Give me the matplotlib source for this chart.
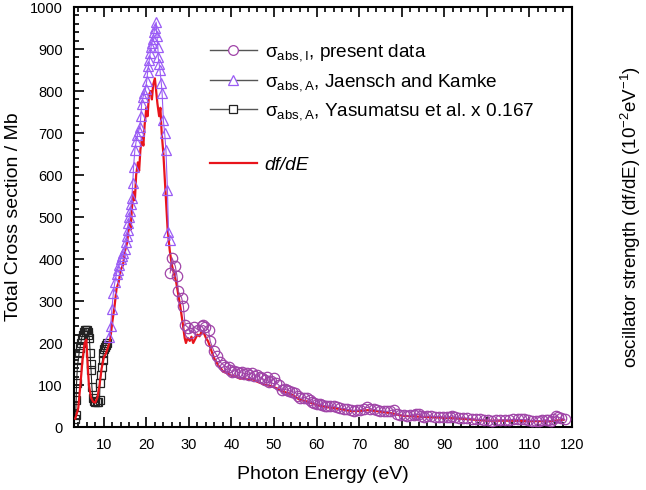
import matplotlib
matplotlib.use("Agg")
import matplotlib.pyplot as plt
from matplotlib.lines import Line2D
from matplotlib.ticker import MultipleLocator

plt.rcParams['font.family'] = ['Liberation Sans', 'DejaVu Sans']
plt.rcParams['mathtext.fontset'] = 'custom'
plt.rcParams['mathtext.rm'] = 'Liberation Sans'
plt.rcParams['mathtext.it'] = 'Liberation Sans:italic'

# ---- data ----
E_yas = [3.3, 3.4, 3.5, 3.6, 3.8, 4.0, 4.2, 4.4, 4.6, 4.8, 5.1, 5.35, 5.6, 5.8, 6.0, 6.2, 6.4,
         6.6, 6.8, 6.9, 7.0, 7.2, 7.4, 7.6, 7.9, 8.3, 8.7, 9.0, 9.1, 9.3, 9.5, 9.7, 9.9, 10.1,
         10.3, 10.5, 10.7]
S_yas = [20, 29, 64, 104, 144, 160, 176, 188, 200, 212, 220, 226, 230, 232, 231, 226, 220,
         212, 176, 150, 136, 96, 70, 62, 60, 60, 60, 64, 104, 125, 144, 160, 176, 185,
         191, 196, 200]

E_jk = [11.3, 11.6, 11.9, 12.25, 12.6, 13.0, 13.3, 13.6, 14.0, 14.3, 14.6, 15.0, 15.2, 15.4,
        15.6, 15.8, 16.0, 16.2, 16.4, 16.6, 16.8, 17.0, 17.3, 17.6, 17.9, 18.2, 18.5, 18.7,
        18.9, 19.2, 19.5, 19.8, 20.1, 20.3, 20.5, 20.7, 20.9, 21.1, 21.3, 21.5, 21.8, 22.0,
        22.3, 22.5, 22.7, 22.8, 23.0, 23.2, 23.5, 23.7, 24.0, 24.3, 24.6, 24.95, 25.2, 25.6]
S_jk = [215, 240, 280, 320, 345, 365, 375, 385, 400, 408, 415, 425, 440, 455,
        470, 485, 500, 515, 530, 545, 580, 620, 660, 680, 695, 705, 715, 740,
        770, 785, 795, 805, 825, 845, 860, 875, 890, 905, 915, 925, 940, 950,
        964, 930, 905, 880, 865, 850, 820, 795, 730, 700, 660, 565, 465, 445]

E_pres = [25.6, 26.0, 26.8, 27.2, 27.5, 28.3, 28.7, 29.1, 29.9, 30.3, 31.1, 32.2, 33.0, 33.4,
          33.8, 34.6, 35.0, 35.8, 36.6, 37.4, 38.1, 38.5, 39.3, 39.7, 40.1, 40.7, 41.3, 41.9,
          42.5, 43.0, 43.6, 44.2, 44.8, 45.4, 46.0, 46.6, 47.2, 47.8, 48.3, 48.7, 49.3, 49.9,
          50.5, 51.1, 51.9, 52.5, 53.0, 53.6, 54.2, 55.0, 55.6, 56.2, 57.0, 57.8, 58.4, 58.9,
          59.5, 60.1, 60.7, 61.3, 61.9, 62.5, 63.2, 64.0, 64.8, 65.6, 66.4, 67.2, 68.0, 68.7,
          69.5, 70.3, 71.1, 71.9, 72.6, 73.4, 74.2, 75.0, 75.8, 76.6, 77.3, 78.1, 78.9, 79.7,
          80.5, 81.3, 82.0, 82.8, 83.4, 84.0, 84.6, 85.2, 86.0, 86.8, 87.7, 88.7, 89.7, 90.7,
          91.3, 91.9, 92.6, 93.4, 94.4, 95.4, 96.4, 97.4, 98.3, 99.3, 100.3, 101.3, 102.2,
          103.2, 104.2, 105.2, 106.2, 107.2, 108.0, 108.7, 109.7, 110.7, 111.5, 112.3, 113.0,
          113.8, 114.4, 115.0, 115.6, 116.2, 116.8, 117.4, 118.3]
S_pres = [367, 403, 383, 359, 323, 307, 287, 243, 236, 224, 239, 231, 240, 242,
          239, 231, 204, 182, 170, 154, 148, 144, 142, 136, 132, 134, 132, 128,
          132, 126, 128, 124, 128, 122, 124, 118, 116, 112, 120, 108, 110, 116,
          105, 100, 88, 90, 88, 86, 84, 82, 75, 68, 70, 68, 64, 60,
          57, 55, 54, 53, 51, 50, 50, 50, 47, 45, 44, 42, 41, 39,
          40, 41, 44, 47, 44, 42, 40, 39, 38, 37, 39, 41, 31, 29,
          28, 26, 28, 29, 30, 30, 27, 25, 26, 26, 25, 25, 24, 23,
          25, 27, 24, 22, 22, 21, 20, 18, 18, 17, 16, 15, 16,
          17, 17, 17, 18, 18, 18, 18, 16, 15, 15, 15, 16,
          17, 16, 15, 20, 26, 23, 21, 18]

E_df = [3.3, 3.6, 4.0, 4.5, 5.0, 5.5, 5.9, 6.2, 6.5, 7.0, 7.5, 8.0, 8.5, 9.0, 9.5, 10.0,
        10.5, 11.0, 11.5, 12.0, 12.5, 13.0, 13.5, 14.0, 14.5, 15.0, 15.5, 16.0, 16.3, 16.6,
        17.0, 17.3, 17.6, 18.0, 18.3, 18.6, 19.0, 19.3, 19.6, 20.0, 20.3, 20.6, 21.0, 21.3,
        21.6, 22.0, 22.3, 22.6, 23.0, 23.3, 23.6, 24.0, 24.5, 25.0, 25.5, 26.0, 26.5, 27.0,
        27.5, 28.0, 28.5, 29.0, 29.3, 29.7, 30.2, 30.6, 31.0, 31.5, 32.0, 32.5, 33.0, 33.5,
        34.0, 34.5, 35.0, 35.5, 36.0, 36.5, 37.0, 37.5, 38.0, 39.0, 40.0, 41.0, 42.0, 43.0,
        44.0, 45.0, 46.0, 47.0, 48.0, 49.0, 50.0, 52.0, 54.0, 56.0, 58.0, 60.0, 62.0, 64.0,
        66.0, 68.0, 70.0, 72.0, 74.0, 76.0, 78.0, 80.0, 85.0, 90.0, 95.0, 100.0, 105.0,
        110.0, 115.0, 118.0]
S_df = [20, 30, 45, 100, 160, 200, 208, 150, 100, 70, 60, 58, 70, 100, 140, 165,
        175, 190, 208, 250, 285, 330, 345, 375, 385, 420, 440, 490, 470, 520,
        560, 540, 600, 630, 610, 660, 690, 670, 720, 760, 740, 790, 800, 780,
        815, 830, 800, 770, 740, 760, 700, 650, 560, 470, 420, 385, 365, 345,
        315, 285, 250, 212, 200, 212, 205, 215, 200, 210, 220, 216, 228, 224,
        212, 204, 190, 175, 162, 154, 145, 140, 132, 128, 122, 120, 115, 117,
        112, 114, 108, 104, 100, 98, 95, 85, 78, 65, 60, 52, 48, 45,
        42, 38, 38, 40, 38, 35, 32, 27, 24, 22, 19, 15, 15,
        14, 14, 17]

x_ticks = [10, 20, 30, 40, 50, 60, 70, 80, 90, 100, 110, 120]
y_ticks = [0, 100, 200, 300, 400, 500, 600, 700, 800, 900, 1000]

c_pres = '#a044a8'
c_jk = '#9a5cf5'
c_yas = '#222222'
c_df = '#e8141b'

fig = plt.figure(figsize=(6.46, 4.90), dpi=100)
ax = fig.add_axes([74/646, 1-427/490, (572-74)/646, (427-7)/490])

ax.plot(E_yas, S_yas, color=c_yas, lw=0.8, marker='s', ms=5.5, mfc='none', mec=c_yas,
        mew=0.9, zorder=2)
ax.plot(E_df, S_df, color=c_df, lw=1.6, zorder=3)
ax.plot(E_jk, S_jk, color=c_jk, lw=0.8, marker='^', ms=7.5, mfc='none', mec=c_jk,
        mew=0.9, zorder=4)
ax.plot(E_pres, S_pres, color=c_pres, lw=0.8, marker='o', ms=7.5, mfc='none', mec=c_pres,
        mew=0.9, zorder=4)

ax.set_xlim(3, 120)
ax.set_ylim(0, 1000)
ax.set_xticks(x_ticks)
ax.set_yticks(y_ticks)
ax.xaxis.set_minor_locator(MultipleLocator(2))
ax.yaxis.set_minor_locator(MultipleLocator(20))
ax.tick_params(which='both', direction='in', top=True, right=True, labelright=True,
               width=1.2, labelsize=10.5, pad=8)
ax.tick_params(which='major', length=7)
ax.tick_params(which='minor', length=3.5)
for s in ax.spines.values():
    s.set_linewidth(1.5)

ax.set_xlabel('Photon Energy (eV)', fontsize=14, labelpad=10)
ax.set_ylabel('Total Cross section / Mb', fontsize=14, labelpad=6)
ax2 = ax.twinx()
ax2.set_ylim(0, 1000)
ax2.set_yticks([])
ax2.set_ylabel(r'oscillator strength (df/dE) (10$^{-2}$eV$^{-1}$)', fontsize=13.5,
               labelpad=34)
for s in ax2.spines.values():
    s.set_visible(False)

gray = '#555555'
handles = [
    Line2D([], [], color=gray, lw=1.0, marker='o', ms=7, mfc='white', mec=c_pres, mew=0.9),
    Line2D([], [], color=gray, lw=1.0, marker='^', ms=7, mfc='white', mec=c_jk, mew=0.9),
    Line2D([], [], color=gray, lw=1.0, marker='s', ms=6, mfc='white', mec=c_yas, mew=0.9),
    Line2D([], [], color='none', lw=0),
    Line2D([], [], color=c_df, lw=1.6),
]
labels = [r'σ$_{\rm abs,I}$, present data',
          r'σ$_{\rm abs,A}$, Jaensch and Kamke',
          r'σ$_{\rm abs,A}$, Yasumatsu et al. x 0.167',
          '',
          'df/dE']
leg = ax.legend(handles, labels, loc='upper left', bbox_to_anchor=(0.257, 0.934),
                frameon=False, fontsize=13.7, handlelength=2.5, handletextpad=0.4,
                labelspacing=0.45, borderaxespad=0)
leg.get_texts()[4].set_style('italic')

fig.savefig('out.png', dpi=100)
